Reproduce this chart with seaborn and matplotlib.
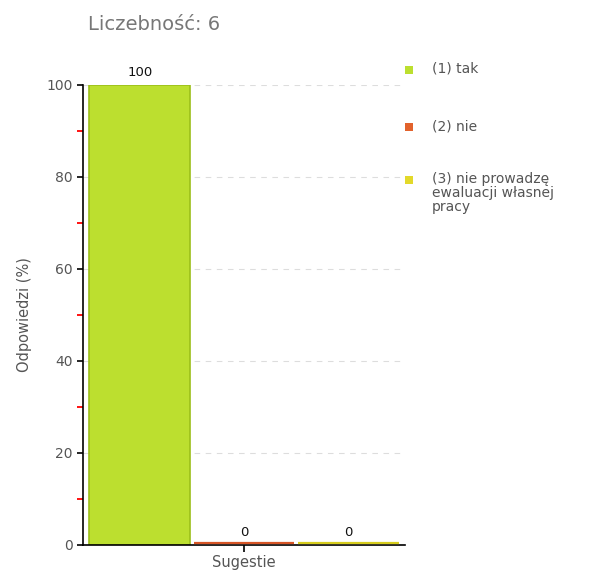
import matplotlib
matplotlib.use("Agg")
import matplotlib.pyplot as plt
from matplotlib.patches import Rectangle
from matplotlib.transforms import ScaledTranslation
import pandas as pd
import seaborn as sns

# data
category = ["Sugestie"]
answers = ["(1) tak", "(2) nie", "(3) nie prowadzę ewaluacji własnej pracy"]
legend_labels = ["(1) tak", "(2) nie", "(3) nie prowadzę\newaluacji własnej\npracy"]
percent = [100, 0, 0]
colors = ["#bcdf2f", "#e2622c", "#e3d92a"]
edge_colors = ["#9cbf1a", "#d65526", "#d6cc1c"]
count = 6

df = pd.DataFrame({
    "kategoria": category * len(answers),
    "odpowiedz": answers,
    "procent": percent,
})

sns.set_style("white")
plt.rcParams["font.family"] = ["DejaVu Sans"]

fig = plt.figure(figsize=(6.05, 5.73), dpi=100)
ax = fig.add_axes([83 / 605, 1 - 545 / 573, 322 / 605, 460 / 573])

ax.yaxis.grid(True, color="#dddddd", linestyle=(0, (5, 5)), linewidth=0.8)
ax.set_axisbelow(True)

sns.barplot(data=df, x="kategoria", y="procent", hue="odpowiedz",
            hue_order=answers, palette=colors, saturation=1,
            width=0.97, gap=0.03, legend=False, ax=ax)
lift = ScaledTranslation(0, 1.6 / 72, fig.dpi_scale_trans)
for bar, ec in zip(ax.patches, edge_colors):
    bar.set_edgecolor(ec)
    if bar.get_height() == 0:
        # empty answers show as a thin coloured line sitting on the axis
        bar.set_linewidth(1.6)
        bar.set_clip_on(False)
        bar.set_transform(ax.transData + lift)
        bar.set_zorder(3)
    else:
        bar.set_linewidth(1.2)

for cont in ax.containers:
    ax.bar_label(cont, fmt="%d", padding=4, fontsize=9.5, color="#111111")

ax.set_ylim(0, 100)
ax.set_xlim(-0.5, 0.5)
ax.set_yticks([0, 20, 40, 60, 80, 100])
ax.set_yticks([10, 30, 50, 70, 90], minor=True)
ax.tick_params(axis="y", which="major", length=4, width=1.2, color="black",
               labelsize=10, labelcolor="#555555", left=True)
ax.tick_params(axis="y", which="minor", length=4, width=1.3, color="#ff0000", left=True)
ax.tick_params(axis="x", length=5, width=1.2, color="black",
               labelsize=10.5, labelcolor="#555555", bottom=True, pad=2)

for side in ["top", "right"]:
    ax.spines[side].set_visible(False)
for side in ["left", "bottom"]:
    ax.spines[side].set_color("black")
    ax.spines[side].set_linewidth(1.2)

ax.set_xlabel("")
ax.set_ylabel("Odpowiedzi (%)", fontsize=10.5, color="#555555", labelpad=10)

fig.text(88 / 605, 1 - 25 / 573, f"Liczebność: {count}", fontsize=14,
         color="#777777", va="center", ha="left")

# legend drawn by hand to match the stacked layout
legend_y = [70, 127, 180]
for lab, col, y in zip(legend_labels, colors, legend_y):
    fig.patches.append(Rectangle((405 / 605, 1 - (y + 4) / 573), 8 / 605, 8 / 573,
                                 transform=fig.transFigure, facecolor=col,
                                 edgecolor="none"))
    fig.text(432 / 605, 1 - (y - 8) / 573, lab, fontsize=10, color="#555555",
             va="top", ha="left", linespacing=1.0)

fig.savefig("out.png", dpi=100)
plt.close(fig)
